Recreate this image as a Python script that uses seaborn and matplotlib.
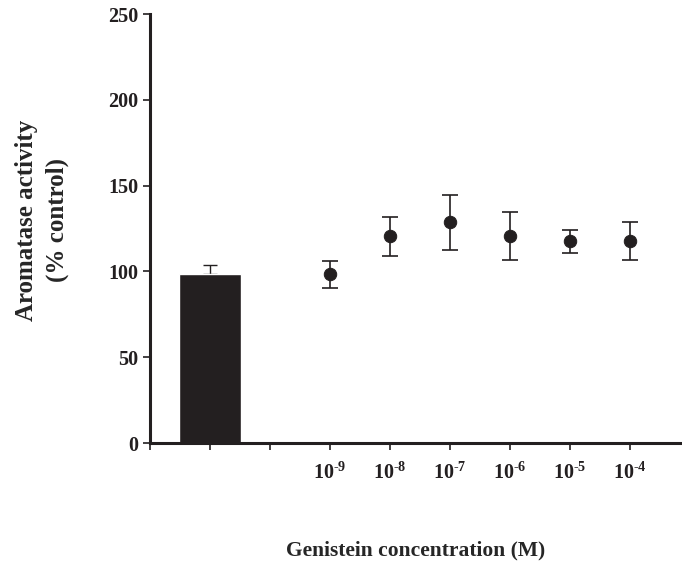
import numpy as np
import pandas as pd
import matplotlib
matplotlib.use('Agg')
import matplotlib.pyplot as plt
import seaborn as sns

# control bar
ctrl_value = 98.5
ctrl_err = 5.5

# genistein doses
doses = [r'10$^{\text{-9}}$', r'10$^{\text{-8}}$', r'10$^{\text{-7}}$',
         r'10$^{\text{-6}}$', r'10$^{\text{-5}}$', r'10$^{\text{-4}}$']
means = [98.5, 120.5, 128.6, 120.6, 117.7, 117.7]
lower = [90.5, 109.0, 112.7, 106.6, 110.9, 106.6]
upper = [106.0, 131.7, 144.5, 134.6, 124.1, 128.8]

sns.set_style('ticks')
plt.rcParams['font.family'] = ['Liberation Serif', 'DejaVu Serif']
plt.rcParams['font.weight'] = 'bold'
plt.rcParams['mathtext.fontset'] = 'custom'
plt.rcParams['mathtext.rm'] = 'Liberation Serif:bold'
plt.rcParams['mathtext.it'] = 'Liberation Serif:bold'
plt.rcParams['mathtext.bf'] = 'Liberation Serif:bold'

dark = '#231f20'

fig = plt.figure(figsize=(6.82, 5.64), dpi=100)
ax = fig.add_axes([0.22, 0.2145, 0.78, 0.7605])

pos = np.arange(3, 3 + len(doses))
df = pd.DataFrame({'pos': pos, 'mean': means, 'lo': lower, 'hi': upper})

ax.bar([1], [ctrl_value], width=1.03, color=dark, zorder=2)
ax.errorbar([1], [ctrl_value], yerr=[[0], [ctrl_err]], fmt='none',
            ecolor=dark, elinewidth=1, capsize=5, capthick=1, zorder=1)

yerr = [df['mean'] - df['lo'], df['hi'] - df['mean']]
ax.errorbar(df['pos'], df['mean'], yerr=yerr, fmt='none', ecolor=dark,
            elinewidth=1.2, capsize=6, capthick=1.2, zorder=2)
sns.scatterplot(data=df, x='pos', y='mean', s=80, color=dark,
                edgecolor=dark, zorder=3, ax=ax)

ax.set_xlim(0, 8.87)
ax.set_ylim(0, 250)
ax.set_yticks([0, 50, 100, 150, 200, 250])
ax.set_xticks(np.arange(0, 9))
ax.set_xticklabels([''] * 3 + doses)

for s in ['top', 'right']:
    ax.spines[s].set_visible(False)
for s in ['left', 'bottom']:
    ax.spines[s].set_linewidth(2.2)
    ax.spines[s].set_color(dark)

ax.tick_params(axis='both', direction='out', length=5, width=1.2,
               colors=dark, labelsize=14.5)
ax.tick_params(axis='x', pad=9)

ax.set_ylabel('Aromatase activity\n(% control)', fontsize=18,
              fontweight='bold', labelpad=28, linespacing=1.4)
ax.yaxis.label.set_y(0.52)
ax.set_xlabel('Genistein concentration (M)', fontsize=15.5,
              fontweight='bold', labelpad=41)

fig.savefig('out.png', dpi=100)
